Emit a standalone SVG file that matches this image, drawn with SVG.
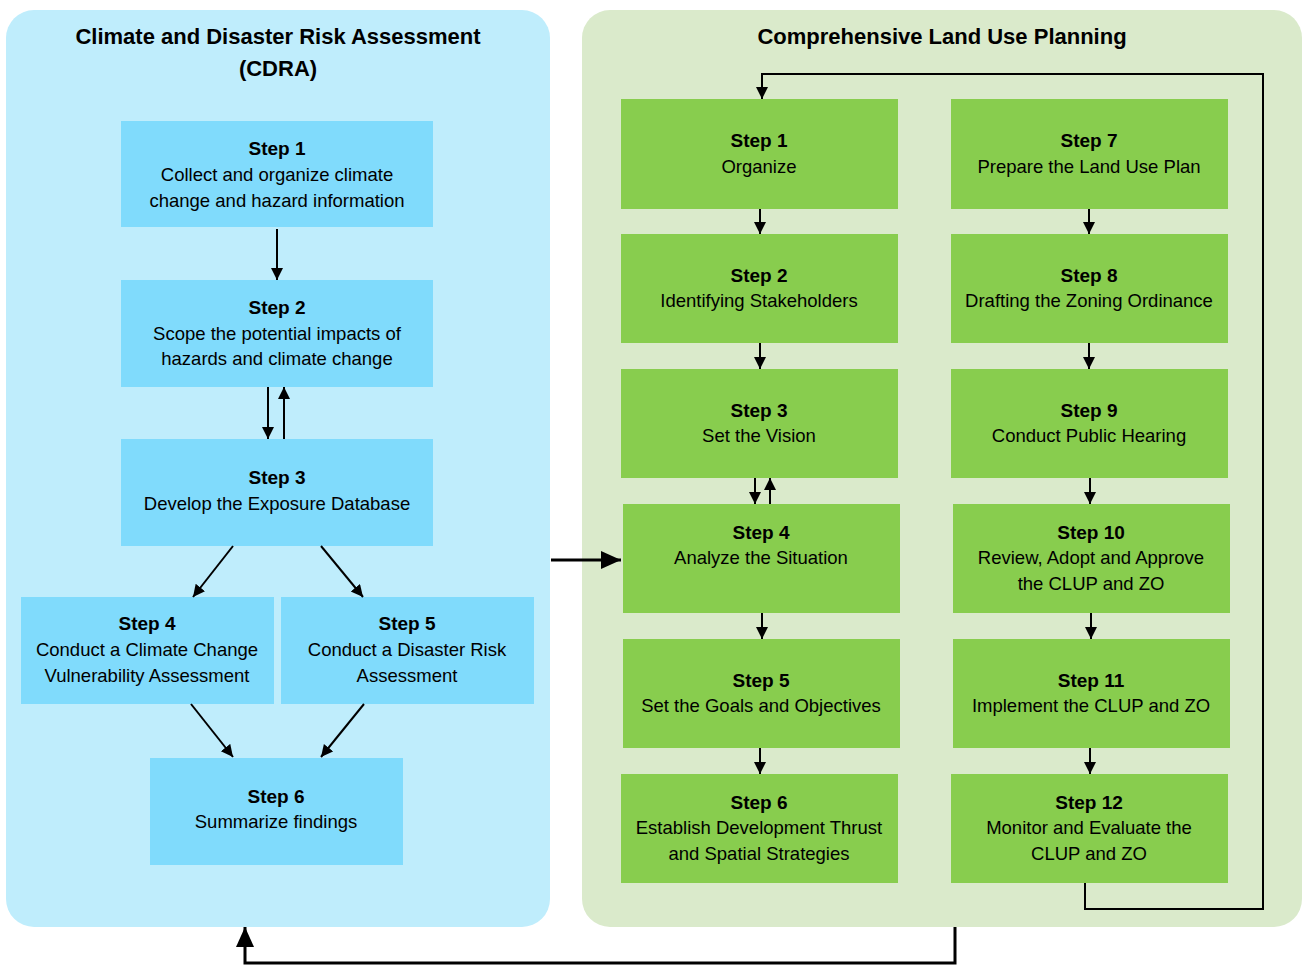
<svg xmlns="http://www.w3.org/2000/svg" width="1305" height="965" viewBox="0 0 1305 965">
  <style>
    .panel-b { fill: #bfedfc; }
    .panel-g { fill: #daeacb; }
    .node-b { fill: #80dbfc; }
    .node-g { fill: #88cd4e; }
    .title { font-family: "Liberation Sans", Arial, sans-serif; font-size: 22px; font-weight: bold; fill: #000; text-anchor: middle; }
    .hd { font-family: "Liberation Sans", Arial, sans-serif; font-size: 19px; font-weight: bold; fill: #000; text-anchor: middle; }
    .tx { font-family: "Liberation Sans", Arial, sans-serif; font-size: 18.5px; fill: #000; text-anchor: middle; }
    .ln { fill: none; stroke: #000; stroke-width: 2; }
    .lnb { fill: none; stroke: #000; stroke-width: 3; }
  </style>
  <defs>
    <marker id="ah" markerUnits="userSpaceOnUse" markerWidth="12" markerHeight="14" refX="12" refY="6" orient="auto">
      <path d="M0,0 L12,6 L0,12 Z" fill="#000"/>
    </marker>
    <marker id="ahb" markerUnits="userSpaceOnUse" markerWidth="22" markerHeight="20" refX="20" refY="9" orient="auto">
      <path d="M0,0 L20,9 L0,18 Z" fill="#000"/>
    </marker>
  </defs>

  <!-- panels -->
  <g id="panel-cdra">
    <rect class="panel-b" x="6" y="10" width="544" height="917" rx="28" ry="28"/>
    <text class="title" x="278" y="44">Climate and Disaster Risk Assessment</text>
    <text class="title" x="278" y="76">(CDRA)</text>
  </g>
  <g id="panel-clup">
    <rect class="panel-g" x="582" y="10" width="720" height="917" rx="28" ry="28"/>
    <text class="title" x="942" y="44">Comprehensive Land Use Planning</text>
  </g>

  <!-- CDRA steps -->
  <g id="cdra-1">
    <rect class="node-b" x="121" y="121" width="312" height="106"/>
    <text class="hd" x="277" y="155">Step 1</text>
    <text class="tx" x="277" y="181">Collect and organize climate</text>
    <text class="tx" x="277" y="207">change and hazard information</text>
  </g>
  <g id="cdra-2">
    <rect class="node-b" x="121" y="280" width="312" height="107"/>
    <text class="hd" x="277" y="314">Step 2</text>
    <text class="tx" x="277" y="340">Scope the potential impacts of</text>
    <text class="tx" x="277" y="365">hazards and climate change</text>
  </g>
  <g id="cdra-3">
    <rect class="node-b" x="121" y="439" width="312" height="107"/>
    <text class="hd" x="277" y="484">Step 3</text>
    <text class="tx" x="277" y="510">Develop the Exposure Database</text>
  </g>
  <g id="cdra-4">
    <rect class="node-b" x="21" y="597" width="253" height="107"/>
    <text class="hd" x="147" y="630">Step 4</text>
    <text class="tx" x="147" y="656">Conduct a Climate Change</text>
    <text class="tx" x="147" y="682">Vulnerability Assessment</text>
  </g>
  <g id="cdra-5">
    <rect class="node-b" x="281" y="597" width="253" height="107"/>
    <text class="hd" x="407" y="630">Step 5</text>
    <text class="tx" x="407" y="656">Conduct a Disaster Risk</text>
    <text class="tx" x="407" y="682">Assessment</text>
  </g>
  <g id="cdra-6">
    <rect class="node-b" x="150" y="758" width="253" height="107"/>
    <text class="hd" x="276" y="803">Step 6</text>
    <text class="tx" x="276" y="828">Summarize findings</text>
  </g>

  <!-- CLUP steps, first column -->
  <g id="clup-1">
    <rect class="node-g" x="621" y="99" width="277" height="110"/>
    <text class="hd" x="759" y="147">Step 1</text>
    <text class="tx" x="759" y="173">Organize</text>
  </g>
  <g id="clup-2">
    <rect class="node-g" x="621" y="234" width="277" height="109"/>
    <text class="hd" x="759" y="282">Step 2</text>
    <text class="tx" x="759" y="307">Identifying Stakeholders</text>
  </g>
  <g id="clup-3">
    <rect class="node-g" x="621" y="369" width="277" height="109"/>
    <text class="hd" x="759" y="417">Step 3</text>
    <text class="tx" x="759" y="442">Set the Vision</text>
  </g>
  <g id="clup-4">
    <rect class="node-g" x="623" y="504" width="277" height="109"/>
    <text class="hd" x="761" y="539">Step 4</text>
    <text class="tx" x="761" y="564">Analyze the Situation</text>
  </g>
  <g id="clup-5">
    <rect class="node-g" x="623" y="639" width="277" height="109"/>
    <text class="hd" x="761" y="687">Step 5</text>
    <text class="tx" x="761" y="712">Set the Goals and Objectives</text>
  </g>
  <g id="clup-6">
    <rect class="node-g" x="621" y="774" width="277" height="109"/>
    <text class="hd" x="759" y="809">Step 6</text>
    <text class="tx" x="759" y="834">Establish Development Thrust</text>
    <text class="tx" x="759" y="860">and Spatial Strategies</text>
  </g>

  <!-- CLUP steps, second column -->
  <g id="clup-7">
    <rect class="node-g" x="951" y="99" width="277" height="110"/>
    <text class="hd" x="1089" y="147">Step 7</text>
    <text class="tx" x="1089" y="173">Prepare the Land Use Plan</text>
  </g>
  <g id="clup-8">
    <rect class="node-g" x="951" y="234" width="277" height="109"/>
    <text class="hd" x="1089" y="282">Step 8</text>
    <text class="tx" x="1089" y="307">Drafting the Zoning Ordinance</text>
  </g>
  <g id="clup-9">
    <rect class="node-g" x="951" y="369" width="277" height="109"/>
    <text class="hd" x="1089" y="417">Step 9</text>
    <text class="tx" x="1089" y="442">Conduct Public Hearing</text>
  </g>
  <g id="clup-10">
    <rect class="node-g" x="953" y="504" width="277" height="109"/>
    <text class="hd" x="1091" y="539">Step 10</text>
    <text class="tx" x="1091" y="564">Review, Adopt and Approve</text>
    <text class="tx" x="1091" y="590">the CLUP and ZO</text>
  </g>
  <g id="clup-11">
    <rect class="node-g" x="953" y="639" width="277" height="109"/>
    <text class="hd" x="1091" y="687">Step 11</text>
    <text class="tx" x="1091" y="712">Implement the CLUP and ZO</text>
  </g>
  <g id="clup-12">
    <rect class="node-g" x="951" y="774" width="277" height="109"/>
    <text class="hd" x="1089" y="809">Step 12</text>
    <text class="tx" x="1089" y="834">Monitor and Evaluate the</text>
    <text class="tx" x="1089" y="860">CLUP and ZO</text>
  </g>

  <!-- connectors -->
  <g id="connectors">
    <!-- CDRA flow -->
    <line class="ln" x1="277" y1="229" x2="277" y2="280" marker-end="url(#ah)"/>
    <line class="ln" x1="268" y1="387" x2="268" y2="439" marker-end="url(#ah)"/>
    <line class="ln" x1="284" y1="439" x2="284" y2="387" marker-end="url(#ah)"/>
    <line class="ln" x1="233" y1="546" x2="193" y2="597" marker-end="url(#ah)"/>
    <line class="ln" x1="321" y1="546" x2="363" y2="597" marker-end="url(#ah)"/>
    <line class="ln" x1="191" y1="704" x2="233" y2="757" marker-end="url(#ah)"/>
    <line class="ln" x1="364" y1="704" x2="321" y2="757" marker-end="url(#ah)"/>

    <!-- CDRA into CLUP step 4 -->
    <line class="lnb" x1="551" y1="560" x2="621" y2="560" marker-end="url(#ahb)"/>

    <!-- CLUP first column -->
    <line class="ln" x1="760" y1="209" x2="760" y2="234" marker-end="url(#ah)"/>
    <line class="ln" x1="760" y1="343" x2="760" y2="369" marker-end="url(#ah)"/>
    <line class="ln" x1="755" y1="478" x2="755" y2="504" marker-end="url(#ah)"/>
    <line class="ln" x1="770" y1="504" x2="770" y2="478" marker-end="url(#ah)"/>
    <line class="ln" x1="762" y1="613" x2="762" y2="639" marker-end="url(#ah)"/>
    <line class="ln" x1="760" y1="748" x2="760" y2="774" marker-end="url(#ah)"/>

    <!-- CLUP second column -->
    <line class="ln" x1="1089" y1="209" x2="1089" y2="234" marker-end="url(#ah)"/>
    <line class="ln" x1="1089" y1="343" x2="1089" y2="369" marker-end="url(#ah)"/>
    <line class="ln" x1="1090" y1="478" x2="1090" y2="504" marker-end="url(#ah)"/>
    <line class="ln" x1="1091" y1="613" x2="1091" y2="639" marker-end="url(#ah)"/>
    <line class="ln" x1="1090" y1="748" x2="1090" y2="774" marker-end="url(#ah)"/>

    <!-- cycle from step 12 back to step 1 -->
    <polyline class="ln" points="1085,883 1085,909 1263,909 1263,74 762,74 762,99" marker-end="url(#ah)"/>

    <!-- CLUP back to CDRA -->
    <polyline class="lnb" points="955,927 955,963 245,963 245,927" marker-end="url(#ahb)"/>
  </g>
</svg>
